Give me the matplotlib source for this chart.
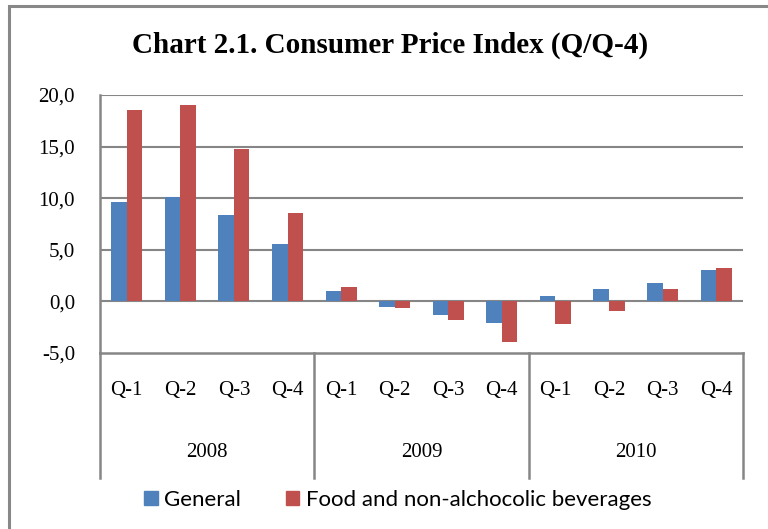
import matplotlib
matplotlib.use("Agg")
import matplotlib.pyplot as plt
import matplotlib.transforms as mtransforms
from matplotlib.patches import Rectangle, Patch
import numpy as np

years = ["2008", "2009", "2010"]
quarters = ["Q-1", "Q-2", "Q-3", "Q-4"]
general = [9.6, 10.1, 8.4, 5.6, 1.0, -0.5, -1.3, -2.1, 0.5, 1.2, 1.8, 3.0]
food = [18.5, 19.0, 14.8, 8.6, 1.4, -0.6, -1.8, -3.9, -2.2, -0.9, 1.2, 3.2]
y_ticks = [-5, 0, 5, 10, 15, 20]
y_labels = ["-5,0", "0,0", "5,0", "10,0", "15,0", "20,0"]

BLUE = "#4F81BD"
RED = "#C0504D"
GRID = "#868686"
SERIF = "Liberation Serif"

fig = plt.figure(figsize=(7.68, 5.29), dpi=100)
ax = fig.add_axes([0.1302, 0.3327, 0.8372, 0.4877])

x = np.arange(len(general))
w = 0.29
ax.bar(x - w / 2, general, width=w, color=BLUE, zorder=3)
ax.bar(x + w / 2, food, width=w, color=RED, zorder=3)

ax.set_xlim(-0.5, len(general) - 0.5)
ax.set_ylim(-5, 20)
ax.set_yticks(y_ticks)
ax.set_yticklabels(y_labels, fontsize=15, fontfamily=SERIF)
ax.tick_params(axis="y", length=0, pad=18)
ax.set_xticks([])
for y in y_ticks[1:]:
    ax.axhline(y, color=GRID, linewidth=1.5, zorder=1)

for side in ["top", "right"]:
    ax.spines[side].set_visible(False)
for side in ["left", "bottom"]:
    ax.spines[side].set_color(GRID)
    ax.spines[side].set_linewidth(1.8)

# category axis: quarters, years and separators below the plot
trans = mtransforms.blended_transform_factory(ax.transData, ax.transAxes)
for i, xi in enumerate(x):
    ax.text(xi, -0.147, quarters[i % 4], transform=trans, ha="center", va="center",
            fontsize=15, fontfamily=SERIF)
for g, year in enumerate(years):
    ax.text(g * 4 + 1.5, -0.384, year, transform=trans, ha="center", va="center",
            fontsize=15, fontfamily=SERIF)
for sep in [-0.5, 3.5, 7.5, 11.5]:
    ax.plot([sep, sep], [0, -0.485], transform=trans, color=GRID, linewidth=1.8,
            clip_on=False, zorder=2)

fig.text(0.508, 0.915, "Chart 2.1. Consumer Price Index (Q/Q-4)", ha="center", va="center",
         fontsize=21, fontweight="bold", fontfamily=SERIF)

handles = [Patch(color=BLUE, label="General"),
           Patch(color=RED, label="Food and non-alchocolic beverages")]
fig.legend(handles=handles, loc="center", bbox_to_anchor=(0.518, 0.055), ncol=2,
           frameon=False, prop={"family": "Lato", "size": 16},
           handlelength=0.6, handleheight=0.6, handletextpad=0.3, columnspacing=2.0)

# outer chart frame
fig.patches.append(Rectangle((9 / 768, -0.2), 1.5, 1.2 - 6 / 529, transform=fig.transFigure,
                             fill=False, edgecolor="#888888", linewidth=2.2))

fig.savefig("out.png", dpi=100)
